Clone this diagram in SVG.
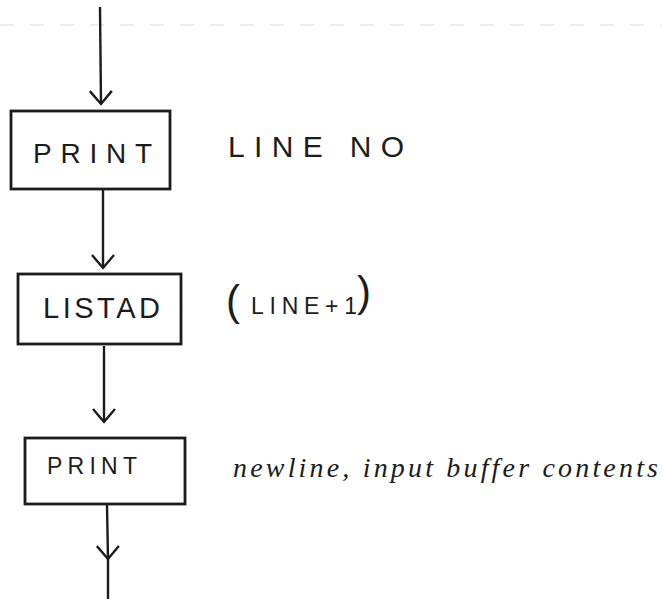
<svg xmlns="http://www.w3.org/2000/svg" width="662" height="599" viewBox="0 0 662 599">
<defs>
<style>
.box{fill:none;stroke:#1c1c1c;stroke-width:2.8}
.conn{fill:none;stroke:#1c1c1c;stroke-width:2.4}
.lbl{font-family:"Liberation Sans","DejaVu Sans",sans-serif;fill:#1c1c1c}
.note{font-family:"Liberation Sans","DejaVu Sans",sans-serif;fill:#1c1c1c}
.hand{font-family:"Liberation Serif","DejaVu Serif",serif;font-style:italic;fill:#1c1c1c}
</style>
<marker id="vhead" markerUnits="userSpaceOnUse" orient="auto" refX="0" refY="0" markerWidth="30" markerHeight="30" viewBox="-15 -15 30 30" overflow="visible">
<path d="M-13,-11 L0,0 L-13,11" fill="none" stroke="#1c1c1c" stroke-width="2.4"/>
</marker>
</defs>
<rect width="662" height="599" fill="#ffffff"/>
<line x1="0" y1="25" x2="662" y2="25" stroke="#ececec" stroke-width="2" stroke-dasharray="14 16"/>
<g id="connectors">
<line class="conn" x1="100" y1="7" x2="101" y2="104" marker-end="url(#vhead)"/>
<line class="conn" x1="103" y1="190" x2="103" y2="268" marker-end="url(#vhead)"/>
<line class="conn" x1="104" y1="346" x2="104" y2="422" marker-end="url(#vhead)"/>
<path class="conn" d="M107,505 L108,559 L108,599" marker-mid="url(#vhead)"/>
</g>
<g id="print1">
<rect class="box" x="11" y="111" width="159" height="78"/>
<text class="lbl" x="33" y="163" font-size="28" textLength="119" lengthAdjust="spacing">PRINT</text>
</g>
<g id="listad">
<rect class="box" x="18" y="274" width="163" height="70"/>
<text class="lbl" x="43" y="318" font-size="29" textLength="117" lengthAdjust="spacing">LISTAD</text>
</g>
<g id="print2">
<rect class="box" x="25" y="438" width="160" height="66"/>
<text class="lbl" x="47" y="474" font-size="23" textLength="90" lengthAdjust="spacing">PRINT</text>
</g>
<g id="notes">
<text class="note" x="228" y="157" font-size="30" textLength="176" lengthAdjust="spacing">LINE NO</text>
<text class="note" x="226" y="315" font-size="42">(</text>
<text class="note" x="251" y="314" font-size="23" textLength="106" lengthAdjust="spacing">LINE+1</text>
<text class="note" x="357" y="306" font-size="42">)</text>
<text class="hand" x="233" y="477" font-size="28" textLength="425" lengthAdjust="spacing">newline, input buffer contents</text>
</g>
</svg>
